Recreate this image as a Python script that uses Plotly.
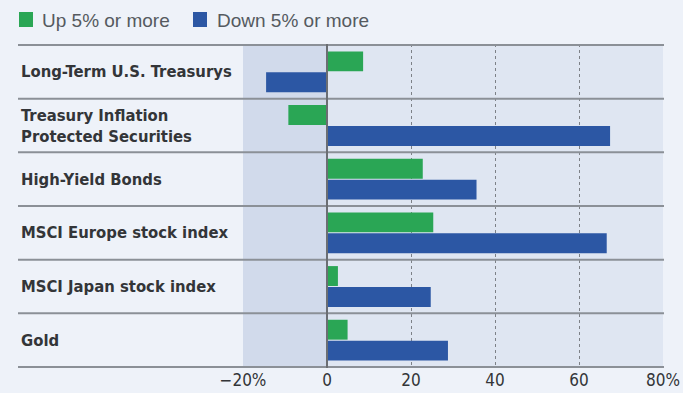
import plotly.graph_objects as go

# Asset classes, top to bottom
categories = [
    "Long-Term U.S. Treasurys",
    "Treasury Inflation<br>Protected Securities",
    "High-Yield Bonds",
    "MSCI Europe stock index",
    "MSCI Japan stock index",
    "Gold",
]

# Average returns (%) in each regime
up_values = [8.6, -9.2, 22.8, 25.3, 2.6, 4.9]
down_values = [-14.5, 67.4, 35.6, 66.6, 24.7, 28.8]

series_names = ["Up 5% or more", "Down 5% or more"]
series_colors = ["#2aa655", "#2c57a4"]

x_range = [-20, 80]
tick_vals = [-20, 0, 20, 40, 60, 80]
tick_text = ["\u221220%", "0", "20", "40", "60", "80%"]

W, H = 683, 393
M_L, M_R, M_T, M_B = 243, 20, 44, 25
plot_w = W - M_L - M_R
plot_h = H - M_T - M_B

def px_to_paper_x(px):
    return (px - M_L) / plot_w

def px_to_paper_y(py):
    return 1 - (py - M_T) / plot_h

label_font = "DejaVu Sans Condensed, Liberation Sans Narrow, Arial Narrow, sans-serif"

fig = go.Figure()
for name, vals, color in zip(series_names, [up_values, down_values], series_colors):
    fig.add_trace(go.Bar(
        y=categories, x=vals, orientation="h", name=name,
        marker=dict(color=color, line=dict(width=0)),
        showlegend=False,
    ))

shapes = []
# shaded negative region
shapes.append(dict(type="rect", xref="x", yref="paper", x0=x_range[0], x1=0, y0=0, y1=1,
                   fillcolor="#d1daeb", line=dict(width=0), layer="below"))
# row separators spanning the label column and the plot
n = len(categories)
for i in range(n + 1):
    shapes.append(dict(type="line", xref="paper", yref="y",
                       x0=px_to_paper_x(18), x1=px_to_paper_x(664),
                       y0=i - 0.5, y1=i - 0.5,
                       line=dict(color="#8b9097", width=2), layer="above"))
# zero line
shapes.append(dict(type="line", xref="x", yref="paper", x0=0, x1=0, y0=0, y1=1,
                   line=dict(color="#6b6e73", width=2), layer="above"))

# legend swatches
legend_items = [(19, 40), (193, 215)]
for (sx, tx), color in zip(legend_items, series_colors):
    shapes.append(dict(type="rect", xref="paper", yref="paper",
                       x0=px_to_paper_x(sx), x1=px_to_paper_x(sx + 14),
                       y0=px_to_paper_y(12), y1=px_to_paper_y(27),
                       fillcolor=color, line=dict(width=0)))

annotations = []
for (sx, tx), name in zip(legend_items, series_names):
    annotations.append(dict(text=name, xref="paper", yref="paper",
                            x=px_to_paper_x(tx), y=px_to_paper_y(20),
                            xanchor="left", yanchor="middle", showarrow=False,
                            font=dict(family="Liberation Sans, Arial, sans-serif", size=19, color="#555a60")))

for cat in categories:
    annotations.append(dict(text=cat, xref="paper", yref="y", x=px_to_paper_x(19), y=cat,
                            xanchor="left", yanchor="middle", align="left", showarrow=False,
                            font=dict(family=label_font, size=16.5, color="#333538", weight="bold")))

fig.update_layout(
    width=W, height=H,
    margin=dict(l=M_L, r=M_R, t=M_T, b=M_B, autoexpand=False),
    paper_bgcolor="#eef2f9",
    plot_bgcolor="#dfe6f2",
    barmode="group", bargap=0.22, bargroupgap=0.05,
    shapes=shapes, annotations=annotations,
    xaxis=dict(range=x_range, tickvals=tick_vals, ticktext=tick_text,
               showgrid=True, gridcolor="#7d8187", griddash="dot", gridwidth=1,
               zeroline=False, showline=False, ticks="", automargin=False,
               tickfont=dict(family=label_font, size=17, color="#333538")),
    yaxis=dict(autorange="reversed", showticklabels=False, showgrid=False,
               zeroline=False, showline=False, ticks="", automargin=False),
    showlegend=False,
)

fig.write_html("out.html")
